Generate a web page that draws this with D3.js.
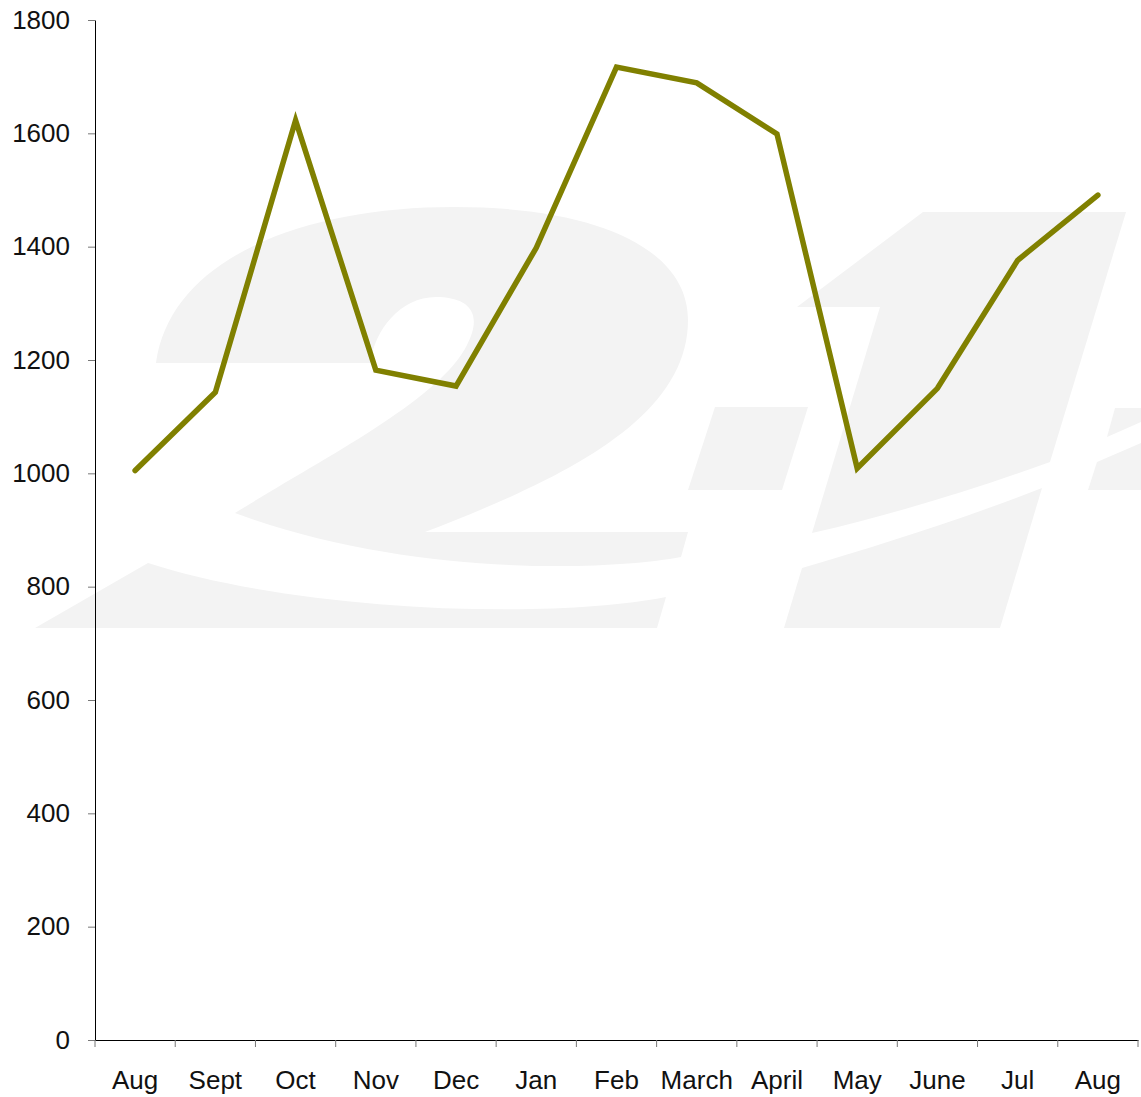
<!DOCTYPE html>
<html>
<head>
<meta charset="utf-8">
<script src="https://cdn.jsdelivr.net/npm/d3@7"></script>
<style>
  body { margin: 0; background: #fff; }
  svg { display: block; font-family: "Liberation Sans", Arial, sans-serif; }
</style>
</head>
<body>
<svg width="1141" height="1097"></svg>
<script>
// Data
const months = ["Aug", "Sept", "Oct", "Nov", "Dec", "Jan", "Feb", "March", "April", "May", "June", "Jul", "Aug"];
const values = [1005, 1143, 1623, 1182, 1154, 1398, 1717, 1689, 1599, 1009, 1150, 1376, 1491];
const yTicks = [0, 200, 400, 600, 800, 1000, 1200, 1400, 1600, 1800];

const svg = d3.select('svg');
const margin = { left: 95, right: 3, top: 20, bottom: 57 };
const width = 1141, height = 1097;

const x = d3.scaleBand()
    .domain(d3.range(months.length))
    .range([margin.left, width - margin.right]);

const y = d3.scaleLinear()
    .domain([0, 1800])
    .range([height - margin.bottom, margin.top]);

// Background watermark logo
const wm = svg.append('g').attr('fill', '#f3f3f3');
const logoPaths = [
    // "2" upper part
    "M156,363 C170,260 300,207 454,207 C600,207 688,250 688,320 C688,420 560,480 425,532 L688,532 L681,557 C600,572 400,575 235,513 C320,460 440,400 467,345 C485,310 465,297 436,297 C400,297 375,330 370,363 Z",
    // "2" lower part
    "M148,563 C300,612 550,620 666,597 L657,628 L35,628 Z",
    // separator
    "M715,407 L808,407 L782,490 L688,490 Z",
    // "4" upper part
    "M923,212 L1126,212 L1050,462 C980,487 900,513 812,533 L880,307 L797,307 Z",
    // "4" lower part
    "M802,568 C880,545 960,520 1042,488 L1000,628 L784,628 Z",
    // right pieces
    "M1115,408 L1141,408 L1141,422 L1107,437 Z",
    "M1097,462 L1141,443 L1141,490 L1088,490 Z"
];
wm.selectAll('path').data(logoPaths).enter().append('path').attr('d', d => d);

// Y axis
const yAxis = svg.append('g')
    .attr('transform', `translate(${margin.left},0)`)
    .call(d3.axisLeft(y).tickValues(yTicks).tickFormat(d3.format('d'))
        .tickSize(7).tickPadding(18).tickSizeOuter(0));
yAxis.select('.domain').attr('stroke', '#000');
yAxis.selectAll('.tick line').attr('stroke', '#777');
yAxis.selectAll('.tick text')
    .attr('fill', '#111')
    .style('font-size', '26px')
    .style('font-family', '"Liberation Sans", Arial, sans-serif');

// X axis
const xAxis = svg.append('g')
    .attr('transform', `translate(0,${height - margin.bottom})`)
    .call(d3.axisBottom(x).tickSize(0).tickPadding(0).tickFormat(i => months[i]));
xAxis.select('.domain').attr('stroke', '#000');
xAxis.selectAll('.tick text')
    .attr('fill', '#111')
    .attr('dy', 0)
    .attr('y', 49)
    .style('font-size', '26px')
    .style('font-family', '"Liberation Sans", Arial, sans-serif');

// x boundary tick marks
const bounds = d3.range(months.length + 1).map(i => margin.left + i * x.bandwidth());
svg.append('g').selectAll('line')
    .data(bounds)
    .enter().append('line')
    .attr('x1', d => d).attr('x2', d => d)
    .attr('y1', height - margin.bottom)
    .attr('y2', height - margin.bottom + 7)
    .attr('stroke', '#777');

// Line
const line = d3.line()
    .x((d, i) => x(i) + x.bandwidth() / 2)
    .y(d => y(d));

svg.append('path')
    .datum(values)
    .attr('fill', 'none')
    .attr('stroke', '#808000')
    .attr('stroke-width', 5.5)
    .attr('stroke-linecap', 'round')
    .attr('stroke-linejoin', 'miter')
    .attr('d', line);
</script>
</body>
</html>
